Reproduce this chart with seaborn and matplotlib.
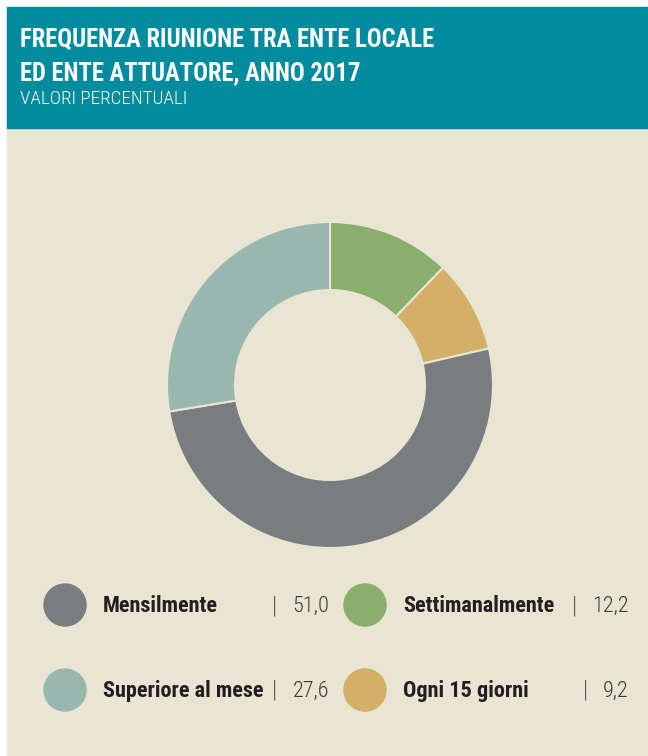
import matplotlib
matplotlib.use("Agg")
import matplotlib.pyplot as plt
from matplotlib import font_manager
from matplotlib.patches import Rectangle, Circle
import seaborn as sns

# data (valori percentuali)
categorie = ["Settimanalmente", "Ogni 15 giorni", "Mensilmente", "Superiore al mese"]
valori = [12.2, 9.2, 51.0, 27.6]
etichette_valori = ["12,2", "9,2", "51,0", "27,6"]
colori = ["#8aae6e", "#d4af68", "#7a7d80", "#99b7ae"]

titolo = ["FREQUENZA RIUNIONE TRA ENTE LOCALE", "ED ENTE ATTUATORE, ANNO 2017"]
sottotitolo = "VALORI PERCENTUALI"

sns.set_theme(style="white")

# pick a narrow font if one is installed
nomi = {f.name for f in font_manager.fontManager.ttflist}
stretti = [f.name for f in font_manager.fontManager.ttflist
           if "Narrow" in f.name or "Condensed" in f.name]
candidati = ["Roboto Condensed", "Liberation Sans Narrow", "Open Sans Condensed"]
narrow = [c for c in candidati if c in nomi] + stretti
bold_font = narrow[:1] + ["Roboto", "DejaVu Sans"]
light_font = narrow[:1] + ["Roboto", "DejaVu Sans"]
plt.rcParams['font.family'] = bold_font

BEIGE = "#e8e5d3"
TEAL = "#008c9e"
W, H = 648, 756

fig = plt.figure(figsize=(W / 100, H / 100), dpi=100, facecolor="white")
renderer = fig.canvas.get_renderer()


def fit(t, larghezza, massimo):
    # shrink the font until the text is about as wide as in the reference
    size = massimo
    while size > 6:
        t.set_fontsize(size)
        if t.get_window_extent(renderer).width <= larghezza:
            break
        size -= 0.25
    return t


# overlay axes in pixel coordinates (y downwards)
bg = fig.add_axes([0, 0, 1, 1])
bg.set_xlim(0, W)
bg.set_ylim(H, 0)
bg.axis("off")
bg.add_patch(Rectangle((7, 7), W - 7, H - 7, color=BEIGE, zorder=0))
bg.add_patch(Rectangle((7, 7), W - 7, 121, color=TEAL, zorder=1))

t1 = bg.text(20, 47, titolo[0], color="white", fontweight="bold",
             va="baseline", ha="left", family=bold_font)
fit(t1, 418, 21)
bg.text(20, 80, titolo[1], color="white", fontweight="bold", va="baseline",
        ha="left", family=bold_font, fontsize=t1.get_fontsize())
t3 = bg.text(20, 104, sottotitolo, color="white", va="baseline", ha="left",
             family=light_font, fontweight=300)
fit(t3, 170, 16)

# donut
cx, cy, r = 330, 385, 163
ax = fig.add_axes([(cx - r) / W, (H - cy - r) / H, 2 * r / W, 2 * r / H])
ax.pie(valori, colors=colori, startangle=90, counterclock=False, radius=1,
       wedgeprops=dict(width=68 / 163, edgecolor=BEIGE, linewidth=1.5))
ax.set_xlim(-1, 1)
ax.set_ylim(-1, 1)
ax.set_aspect("equal")
ax.axis("off")

# legend: order as in the reference
larghezze = [150, 124, 114, 160]
legenda = [(2, 65, 605), (0, 365, 605), (3, 65, 690), (1, 365, 690)]
inv = bg.transData.inverted()
for i, x, y in legenda:
    bg.add_patch(Circle((x, y), 21, color=colori[i], zorder=3))
    t = bg.text(x + 38, y + 7, categorie[i], fontweight="bold",
                color="#231f20", va="baseline", ha="left", zorder=4, family=bold_font)
    fit(t, larghezze[i] + 6, 16)
    v = bg.text(x + 264, y + 7, etichette_valori[i], fontsize=16,
                color="#3a3a3a", va="baseline", ha="right", zorder=4,
                family=light_font, fontweight=300)
    ext = v.get_window_extent(renderer)
    sinistra = inv.transform((ext.x0, ext.y0))[0]
    bg.text(sinistra - 18, y + 7, "|", fontsize=17, color="#555555",
            va="baseline", ha="center", zorder=4, family=light_font, fontweight=300)

fig.savefig("out.png", dpi=100, facecolor=fig.get_facecolor())
